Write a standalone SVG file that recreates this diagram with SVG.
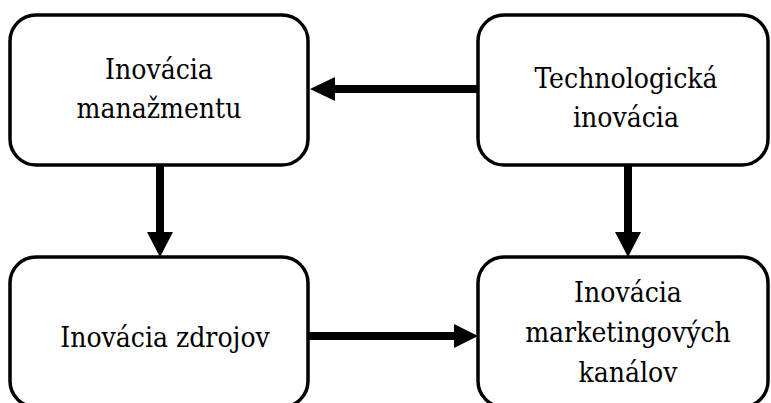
<svg xmlns="http://www.w3.org/2000/svg" width="771" height="403" viewBox="0 0 771 403">
<style>
.box{fill:#fff;stroke:#000;stroke-width:3.5}
.t{font-family:'DejaVu Serif',serif;font-stretch:condensed;font-size:28px;fill:#000;text-anchor:middle}
.ln{stroke:#000;stroke-width:8;fill:none}
.hd{fill:#000}
</style>
<rect width="771" height="403" fill="#fff"/>
<g id="connectors">
<line class="ln" x1="478" y1="89" x2="334" y2="89"/>
<polygon class="hd" points="310,89 335,77 335,101"/>
<line class="ln" x1="160" y1="165" x2="160" y2="234"/>
<polygon class="hd" points="160,257 147,232 173,232"/>
<line class="ln" x1="628" y1="165" x2="628" y2="234"/>
<polygon class="hd" points="628,257 615,232 641,232"/>
<line class="ln" x1="308" y1="336" x2="456" y2="336"/>
<polygon class="hd" points="478,336 454,324 454,348"/>
</g>
<g id="n1">
<rect class="box" x="10" y="15" width="298" height="150" rx="26"/>
<text class="t" x="159" y="79">Inovácia</text>
<text class="t" x="159" y="118">manažmentu</text>
</g>
<g id="n2">
<rect class="box" x="478" y="15" width="290" height="150" rx="26"/>
<text class="t" x="626" y="88">Technologická</text>
<text class="t" x="626" y="127">inovácia</text>
</g>
<g id="n3">
<rect class="box" x="10" y="257" width="298" height="150" rx="26"/>
<text class="t" x="165" y="347">Inovácia zdrojov</text>
</g>
<g id="n4">
<rect class="box" x="478" y="257" width="290" height="150" rx="26"/>
<text class="t" x="628" y="302">Inovácia</text>
<text class="t" x="628" y="342">marketingových</text>
<text class="t" x="628" y="382">kanálov</text>
</g>
</svg>
